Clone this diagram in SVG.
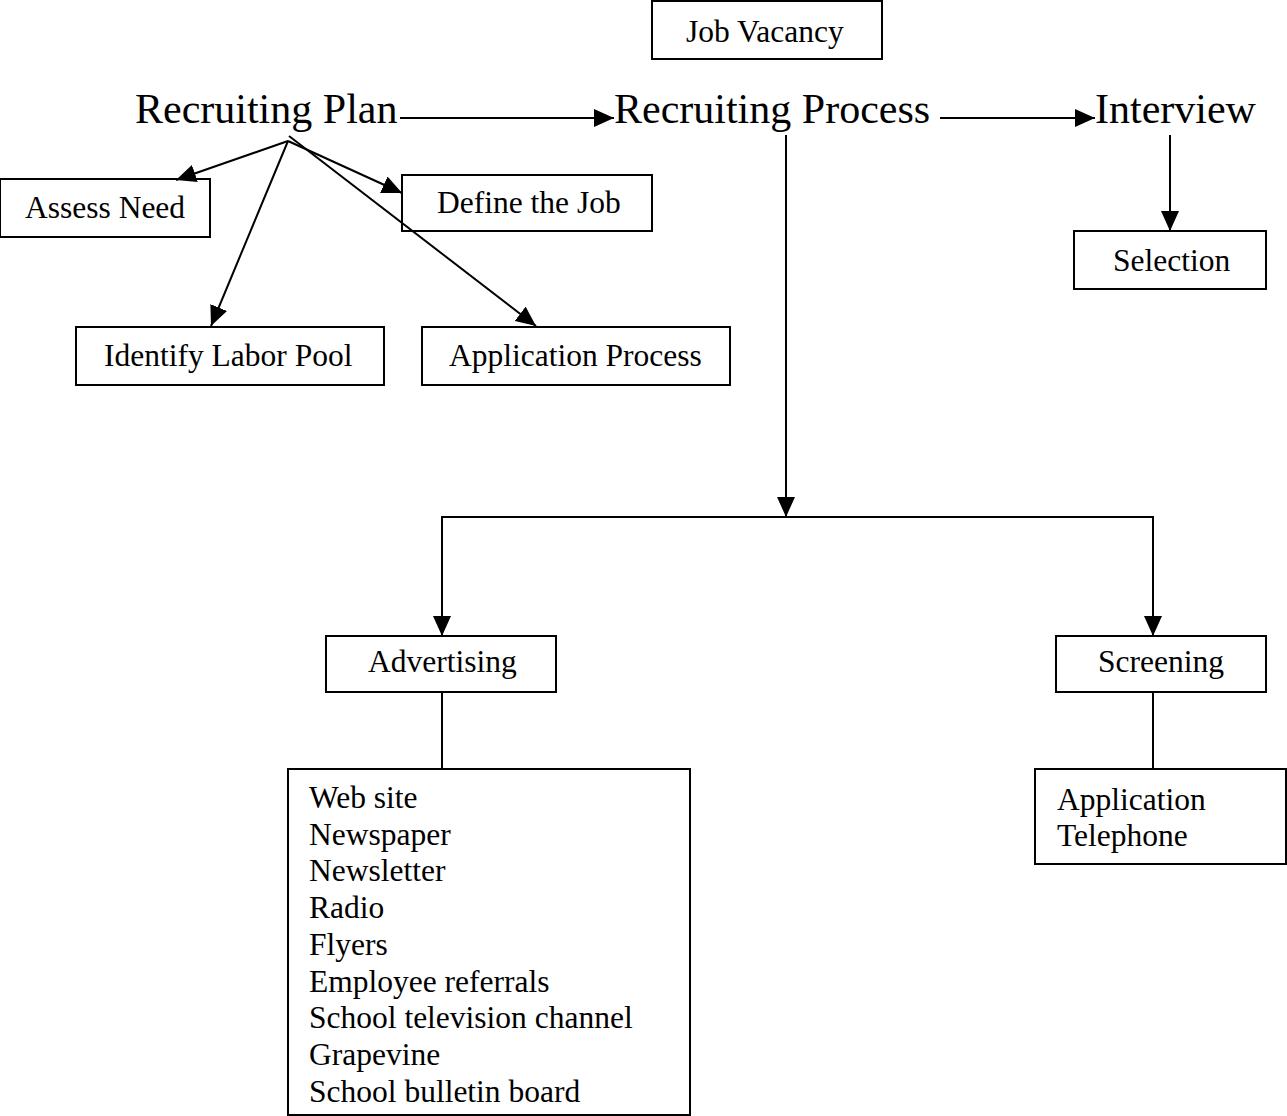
<svg xmlns="http://www.w3.org/2000/svg" width="1287" height="1116" viewBox="0 0 1287 1116">
<style>
.box{fill:#fff;stroke:#000;stroke-width:2}
.t{font-family:"Liberation Serif","Times New Roman",serif;font-size:31.5px;fill:#000}
.big{font-family:"Liberation Serif","Times New Roman",serif;font-size:42px;fill:#000}
.c{fill:none;stroke:#000;stroke-width:2}
</style>
<defs>
<marker id="ah" markerUnits="userSpaceOnUse" markerWidth="21" markerHeight="18" refX="20" refY="9" orient="auto" viewBox="0 0 21 18">
<path d="M0,0 L20,9 L0,18 z" fill="#000"/>
</marker>
</defs>
<rect width="1287" height="1116" fill="#fff"/>
<g id="job-vacancy"><rect class="box" x="652" y="1" width="230" height="58"/><text class="t" x="686" y="42">Job Vacancy</text></g>
<g id="recruiting-plan"><text class="big" x="135" y="123">Recruiting Plan</text></g>
<g id="recruiting-process"><text class="big" x="614" y="123">Recruiting Process</text></g>
<g id="interview"><text class="big" x="1095" y="123">Interview</text></g>
<g id="assess-need"><rect class="box" x="0" y="179" width="210" height="58"/><text class="t" x="25" y="218">Assess Need</text></g>
<g id="define-job"><rect class="box" x="402" y="175" width="250" height="56"/><text class="t" x="437" y="213">Define the Job</text></g>
<g id="identify-labor-pool"><rect class="box" x="76" y="327" width="308" height="58"/><text class="t" x="104" y="366">Identify Labor Pool</text></g>
<g id="application-process"><rect class="box" x="422" y="327" width="308" height="58"/><text class="t" x="449" y="366">Application Process</text></g>
<g id="selection"><rect class="box" x="1074" y="231" width="192" height="58"/><text class="t" x="1113" y="271">Selection</text></g>
<g id="advertising"><rect class="box" x="326" y="636" width="230" height="56"/><text class="t" x="368" y="672">Advertising</text></g>
<g id="screening"><rect class="box" x="1056" y="636" width="210" height="56"/><text class="t" x="1098" y="672">Screening</text></g>
<g id="advertising-list"><rect class="box" x="288" y="769" width="402" height="346"/>
<text class="t" x="309" y="808">Web site</text>
<text class="t" x="309" y="845">Newspaper</text>
<text class="t" x="309" y="881">Newsletter</text>
<text class="t" x="309" y="918">Radio</text>
<text class="t" x="309" y="955">Flyers</text>
<text class="t" x="309" y="992">Employee referrals</text>
<text class="t" x="309" y="1028">School television channel</text>
<text class="t" x="309" y="1065">Grapevine</text>
<text class="t" x="309" y="1102">School bulletin board</text>
</g>
<g id="screening-list"><rect class="box" x="1035" y="769" width="251" height="95"/>
<text class="t" x="1057" y="810">Application</text>
<text class="t" x="1057" y="846">Telephone</text>
</g>
<g id="connectors">
<line class="c" x1="400" y1="118" x2="614" y2="118" marker-end="url(#ah)"/>
<line class="c" x1="940" y1="118" x2="1095" y2="118" marker-end="url(#ah)"/>
<line class="c" x1="1170" y1="135" x2="1170" y2="231" marker-end="url(#ah)"/>
<line class="c" x1="288" y1="141" x2="176" y2="180" marker-end="url(#ah)"/>
<line class="c" x1="288" y1="141" x2="402" y2="193" marker-end="url(#ah)"/>
<line class="c" x1="288" y1="141" x2="211" y2="326" marker-end="url(#ah)"/>
<line class="c" x1="289" y1="136" x2="536" y2="326" marker-end="url(#ah)"/>
<line class="c" x1="786" y1="135" x2="786" y2="517" marker-end="url(#ah)"/>
<polyline class="c" points="442,622 442,517 1153,517 1153,622"/>
<line class="c" x1="442" y1="517" x2="442" y2="636" marker-end="url(#ah)"/>
<line class="c" x1="1153" y1="517" x2="1153" y2="636" marker-end="url(#ah)"/>
<line class="c" x1="442" y1="692" x2="442" y2="769"/>
<line class="c" x1="1153" y1="692" x2="1153" y2="769"/>
</g>
</svg>
